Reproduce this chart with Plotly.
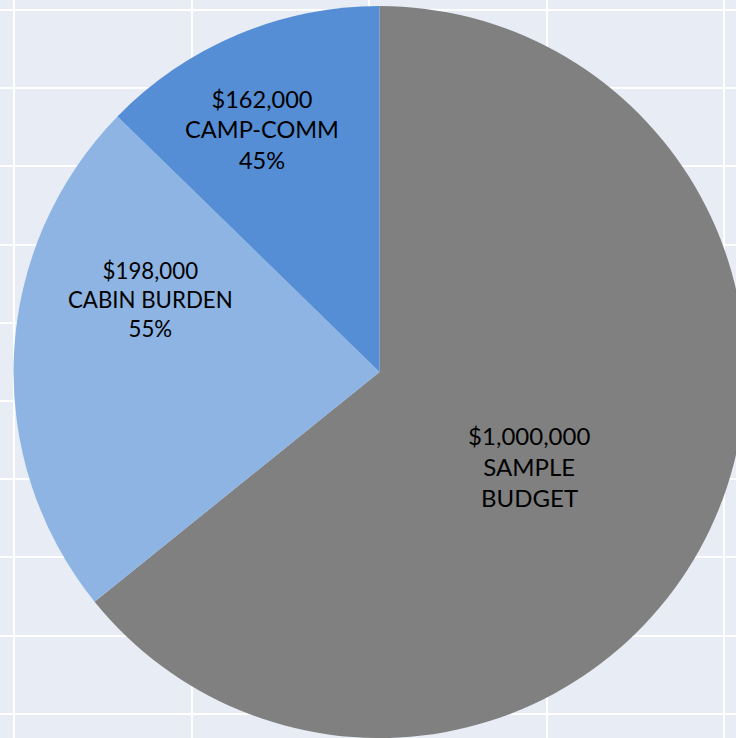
import plotly.graph_objects as go

# Slice shares (angular size of each slice, %)
slice_names = ["SAMPLE<br>BUDGET", "CABIN BURDEN", "CAMP-COMM"]
slice_amounts = ["$1,000,000", "$198,000", "$162,000"]
slice_pcts = ["", "55%", "45%"]
slice_shares = [64.2, 23.1, 12.7]
slice_colors = ["#808080", "#8EB4E3", "#558ED5"]
# padding to nudge each label like the original:
# (blank lines before, blank lines after, spaces before, spaces after each line)
label_pad = [(1, 0, 0, 5), (0, 5, 6, 0), (0, 0, 0, 5)]

W, H = 760, 738
NB = "\u00a0"

texts = []
for a, n, p, (lb, la, sb, sa) in zip(slice_amounts, slice_names, slice_pcts, label_pad):
    lines = a.split("<br>") + n.split("<br>") + ([p] if p else [])
    lines = [NB * sb + s + NB * sa for s in lines]
    parts = [NB] * lb + lines + [NB] * la
    texts.append("<br>".join(parts))

fig = go.Figure()

# empty cartesian axes to provide the gridded background
fig.add_trace(go.Scatter(x=[], y=[], showlegend=False, hoverinfo="skip"))

fig.add_trace(go.Pie(
    values=slice_shares,
    labels=[n.replace("<br>", " ") for n in slice_names],
    text=texts,
    textinfo="text",
    textposition="inside",
    insidetextorientation="horizontal",
    sort=False,
    direction="clockwise",
    rotation=0,
    marker=dict(colors=slice_colors, line=dict(width=0)),
    textfont=dict(family="Lato", size=24, color="#000000"),
    domain=dict(x=[13.5 / W, 745.5 / W], y=[0, 732 / H]),
    showlegend=False,
    hoverinfo="label+value",
))

fig.update_xaxes(range=[-14 / 177.5, (W - 14) / 177.5], dtick=1, tick0=0,
                 showgrid=True, gridcolor="white", gridwidth=2,
                 zeroline=False, showticklabels=False, ticks="", showline=False)
fig.update_yaxes(range=[-24.3 / 78.2, (H - 24.3) / 78.2], dtick=1, tick0=0,
                 showgrid=True, gridcolor="white", gridwidth=2,
                 zeroline=False, showticklabels=False, ticks="", showline=False)

fig.update_layout(
    width=W, height=H,
    margin=dict(l=0, r=0, t=0, b=0),
    plot_bgcolor="#E7ECF5",
    paper_bgcolor="#E7ECF5",
    showlegend=False,
)

fig.write_html("out.html",
               post_script="document.documentElement.style.overflow='hidden';document.body.style.overflow='hidden';")
